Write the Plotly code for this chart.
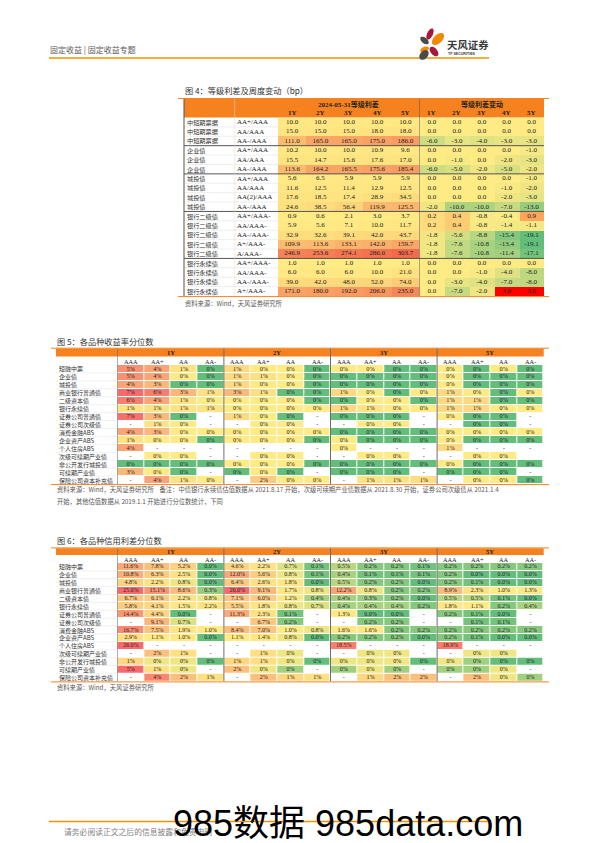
import math
import plotly.graph_objects as go

W, H = 596, 843

# ---------------- Figure 4 data ----------------
T1_BONDS = ["中短期票据", "中短期票据", "中短期票据",
            "企业债", "企业债", "企业债",
            "城投债", "城投债", "城投债", "城投债",
            "银行二级债", "银行二级债", "银行二级债", "银行二级债", "银行二级债",
            "银行永续债", "银行永续债", "银行永续债", "银行永续债"]
T1_PAIRS = ["AA+/AAA", "AA/AAA", "AA-/AAA",
            "AA+/AAA", "AA/AAA", "AA-/AAA",
            "AA+/AAA", "AA/AAA", "AA(2)/AAA", "AA-/AAA",
            "AA+/AAA-", "AA/AAA-", "AA-/AAA-", "A+/AAA-", "A/AAA-",
            "AA+/AAA-", "AA/AAA-", "AA-/AAA-", "A+/AAA-"]
T1_TENORS = ["1Y", "2Y", "3Y", "4Y", "5Y"]
T1_BLOCK_TITLES = ["2024-05-31等级利差", "等级利差变动"]
T1_SPREAD = [
    [10.0, 10.0, 10.0, 10.0, 10.0],
    [15.0, 15.0, 15.0, 18.0, 18.0],
    [111.0, 165.0, 165.0, 175.0, 186.0],
    [10.2, 10.0, 10.0, 10.9, 9.6],
    [15.5, 14.7, 15.6, 17.6, 17.0],
    [113.6, 164.2, 165.5, 175.6, 185.4],
    [5.6, 6.5, 5.9, 5.9, 5.9],
    [11.6, 12.5, 11.4, 12.9, 12.5],
    [17.6, 18.5, 17.4, 28.9, 34.5],
    [24.6, 38.5, 56.4, 119.9, 125.5],
    [0.9, 0.6, 2.1, 3.0, 3.7],
    [5.9, 5.6, 7.1, 10.0, 11.7],
    [32.9, 32.6, 39.1, 42.0, 43.7],
    [109.9, 113.6, 133.1, 142.0, 159.7],
    [246.9, 253.6, 274.1, 286.0, 303.7],
    [1.0, 1.0, 1.0, 1.0, 1.0],
    [6.0, 6.0, 6.0, 10.0, 21.0],
    [39.0, 42.0, 48.0, 52.0, 74.0],
    [171.0, 180.0, 192.0, 206.0, 235.0],
]
T1_CHANGE = [
    [0.0, 0.0, 0.0, 0.0, 0.0],
    [0.0, 0.0, 0.0, 0.0, 0.0],
    [-6.0, -3.0, -4.0, -3.0, -3.0],
    [0.0, 0.0, 0.0, 0.0, -1.0],
    [0.0, -1.0, 0.0, -2.0, -3.0],
    [-6.0, -5.0, -2.0, -5.0, -2.0],
    [0.0, 0.0, 0.0, 0.0, -1.0],
    [0.0, 0.0, 0.0, -1.0, -2.0],
    [0.0, 0.0, 0.0, -2.0, -3.0],
    [-2.0, -10.0, -10.0, -7.0, -13.0],
    [0.2, 0.4, -0.8, -0.4, 0.9],
    [0.2, 0.4, -0.8, -1.4, -1.1],
    [-1.8, -5.6, -8.8, -15.4, -19.1],
    [-1.8, -7.6, -10.8, -13.4, -19.1],
    [-1.8, -7.6, -10.8, -11.4, -17.1],
    [0.0, 0.0, 0.0, 0.0, 0.0],
    [0.0, 0.0, -1.0, -4.0, -8.0],
    [0.0, -3.0, -4.0, -7.0, -8.0],
    [0.0, -7.0, -2.0, 3.0, 3.0],
]

# ---------------- Figure 5 / 6 data ----------------
VARIETIES = ["短融中票", "企业债", "城投债", "商业银行普通债", "二级资本债", "银行永续债",
             "证券公司普通债", "证券公司次级债", "消费金融ABS", "企业资产ABS", "个人住房ABS",
             "次级可续期产业债", "非公开发行城投债", "可续期产业债", "保险公司资本补充债"]
TENORS = ["1Y", "2Y", "3Y", "5Y"]
RATINGS = ["AAA", "AA+", "AA", "AA-"]
N = None  # shown as "-"
B = ""    # blank cell

# yield percentiles (%), columns: 1Y AAA..AA-, 2Y, 3Y, 5Y
T2_YIELD_PCT = [
    [5.0, 4.0, 0.8, 0.0,  1.3, 0.4, 0.4, 0.0,  0.4, 0.4, 0.0, 0.0,  0.4, 0.0, 0.4, 0.0],
    [5.0, 4.0, 0.4, 0.0,  1.3, 0.9, 0.4, 0.0,  0.0, 0.0, 0.0, 0.0,  0.4, 0.0, 0.0, 0.0],
    [4.0, 3.0, 0.0, 0.0,  1.3, 0.4, 0.4, 0.0,  0.0, 0.0, 0.0, 0.0,  0.4, 0.0, 0.0, 0.0],
    [7.0, 6.0, 3.0, 0.9,  3.0, 0.9, 0.0, 0.0,  1.3, 0.4, 0.0, 0.4,  1.3, 0.4, 0.0, 0.4],
    [6.0, 4.0, 0.8, 0.4,  0.4, 0.4, 0.4, 0.0,  0.0, 0.4, 0.4, 0.0,  1.3, 1.3, 0.0, 0.0],
    [0.8, 0.8, 0.8, 0.8,  0.4, 0.4, 0.4, 0.4,  1.3, 0.8, 0.4, 0.4,  1.3, 1.3, 0.4, 0.4],
    [6.6, 3.0, 0.0, N,    1.3, 0.4, 0.0, N,    0.0, 0.0, 0.0, N,    0.4, 0.0, 0.0, N],
    [N, 0.8, 0.4, N,      N, 0.4, 0.4, N,      N, 0.4, 0.4, N,      N, 0.0, 0.0, N],
    [4.0, 3.0, 0.4, 0.4,  0.4, 0.4, 0.4, 0.4,  0.0, 0.0, 0.0, 0.0,  0.4, 0.4, 0.4, 0.4],
    [0.8, 0.4, 0.4, 0.0,  0.4, 0.4, 0.4, 0.0,  0.4, 0.0, 0.0, 0.0,  0.4, 0.0, 0.0, 0.0],
    [4.0, N, N, N,        N, N, N, N,          0.4, N, N, N,        1.3, N, N, N],
    [N, 0.4, 0.4, N,      N, 0.4, 0.4, N,      N, 0.4, 0.4, N,      N, 0.4, 0.4, B],
    [0.0, 0.0, 0.0, 0.0,  0.4, 0.4, 0.4, 0.0,  0.0, 0.0, 0.0, 0.0,  0.4, 0.0, 0.0, 0.0],
    [3.0, 0.4, 0.0, N,    0.0, 0.4, 0.0, N,    0.0, 0.0, 0.0, N,    0.0, 0.0, 0.0, N],
    [N, 4.0, 0.8, 0.4,    N, 2.0, 0.4, 0.4,    N, 0.8, 0.8, 1.1,    N, 0.4, 0.4, 0.0],
]

# credit spread percentiles (%), first 11 varieties (one decimal)
T3_SPREAD_PCT = [
    [11.6, 7.8, 5.2, 0.0,   4.6, 2.2, 0.7, 0.1,   0.5, 0.2, 0.2, 0.1,   0.2, 0.2, 0.2, 0.2],
    [10.8, 6.3, 2.5, 0.0,   12.0, 5.6, 0.8, 0.1,  0.4, 0.1, 0.1, 0.1,   0.2, 0.0, 0.0, 0.0],
    [4.8, 2.2, 0.8, 0.0,    6.4, 2.6, 1.8, 0.0,   0.5, 0.2, 0.2, 0.0,   0.2, 0.1, 0.0, 0.0],
    [25.0, 15.1, 8.6, 0.3,  26.0, 9.1, 1.7, 0.8,  12.2, 0.8, 0.2, 0.2,  8.9, 2.3, 1.0, 1.3],
    [6.7, 6.1, 2.2, 0.8,    7.1, 6.0, 1.2, 0.4,   0.4, 0.3, 0.2, 0.0,   0.5, 0.5, 0.1, 0.0],
    [5.8, 4.1, 1.5, 2.2,    5.5, 1.8, 0.8, 0.7,   0.4, 0.4, 0.4, 0.2,   1.8, 1.1, 0.2, 0.4],
    [14.4, 4.4, 0.0, N,     11.3, 2.3, 0.1, N,    1.3, 0.0, 0.0, N,     0.2, 0.1, 0.0, N],
    [N, 9.1, 0.7, N,        N, 6.7, 0.2, N,       N, 0.2, 0.2, N,       N, 0.1, 0.1, N],
    [16.7, 7.5, 1.9, 1.0,   8.4, 7.0, 1.0, 0.8,   1.6, 1.6, 0.2, 0.2,   0.2, 0.2, 0.2, 0.2],
    [2.9, 1.1, 1.0, 0.0,    1.1, 1.4, 0.8, 0.0,   0.2, 0.2, 0.2, 0.0,   0.2, 0.1, 0.0, 0.0],
    [26.0, N, N, N,         N, N, N, N,           18.5, N, N, N,        18.9, N, N, N],
]
# last 4 varieties (shown as whole percents)
T3_SPREAD_PCT_INT = [
    [N, 2.0, 0.9, N,        N, 0.9, 0.45, N,      N, 0.45, 0.45, N,     N, 0.45, 0.45, B],
    [1.2, 0.45, 0.45, 0.0,  1.2, 0.9, 0.45, 0.0,  0.45, 0.45, 0.45, 0.0, 0.45, 0.2, 0.0, 0.0],
    [5.0, 0.9, 0.45, N,     2.0, 0.45, 0.2, N,    0.2, 0.45, 0.2, N,    0.2, 0.2, 0.45, N],
    [N, 4.0, 2.0, 0.9,      N, 2.0, 1.2, 0.9,     N, 1.2, 2.0, 2.0,     N, 2.0, 0.45, 0.2],
]

# ---------------- styling ----------------
SERIF = "Liberation Serif, Noto Sans CJK SC"
CJK = "Noto Sans CJK SC, Liberation Sans"
TXT = "#222222"
ORANGE = "#F5821F"
DARK = "#555555"
GREEN, YELLOW, RED = "#63BE7B", "#FFEB84", "#F8696B"


def X(p):
    return p / W


def Y(p):
    return 1 - p / H


fig = go.Figure()
ann = []
shapes = []


def txt(x, y, s, size, color=TXT, family=CJK, xref="paper", yref="paper",
        xanchor="left", yanchor="middle"):
    ann.append(dict(x=x, y=y, text=s, xref=xref, yref=yref, xanchor=xanchor,
                    yanchor=yanchor, showarrow=False, borderpad=0,
                    font=dict(size=size, color=color, family=family)))


def line(x0, y0, x1, y1, color, width, xref="paper", yref="paper"):
    shapes.append(dict(type="line", x0=x0, y0=y0, x1=x1, y1=y1, xref=xref, yref=yref,
                       line=dict(color=color, width=width), layer="above"))


def rect(x0, y0, x1, y1, color, xref="paper", yref="paper"):
    shapes.append(dict(type="rect", x0=x0, y0=y0, x1=x1, y1=y1, xref=xref, yref=yref,
                       fillcolor=color, line=dict(width=0), layer="below"))


def zgrid(vals):
    return [[v if isinstance(v, (int, float)) else None for v in row] for row in vals]


def labels(vals, fmt, row0=0):
    xs, ys, ts = [], [], []
    for r, row in enumerate(vals):
        for c, v in enumerate(row):
            xs.append(c)
            ys.append(r + row0)
            if v is None:
                ts.append("-")
            elif v == "":
                ts.append("")
            else:
                ts.append(fmt.format(v))
    return xs, ys, ts


def add_block(vals, fmt, xa, ya, cs, zmin, zmax, size, row0=0, gap=0):
    fig.add_trace(go.Heatmap(z=zgrid(vals), x=list(range(len(vals[0]))),
                             y=list(range(row0, row0 + len(vals))),
                             colorscale=cs, zmin=zmin, zmax=zmax, showscale=False,
                             xgap=gap, ygap=gap, hoverinfo="skip", xaxis=xa, yaxis=ya))
    xs, ys, ts = labels(vals, fmt, row0)
    fig.add_trace(go.Scatter(x=xs, y=ys, text=ts, mode="text", hoverinfo="skip",
                             textfont=dict(family=SERIF, size=size, color=TXT),
                             showlegend=False, cliponaxis=False, xaxis=xa, yaxis=ya))


# ================= Page header / footer =================
txt(X(41), Y(42), "固定收益 | 固定收益专题", 8, "#595959")
line(X(41), Y(50), X(481), Y(50), "#F39200", 1.3)


def petal(cx, cy, a, b, ang):
    th = math.radians(ang)
    pts = []
    for k in range(32):
        t = 2 * math.pi * k / 32
        ex, ey = a * math.cos(t), b * math.sin(t)
        px = cx + ex * math.cos(th) - ey * math.sin(th)
        py = cy + ex * math.sin(th) + ey * math.cos(th)
        pts.append(f"{X(px):.5f},{Y(py):.5f}")
    return "M " + " L ".join(pts) + " Z"


for cx, cy, a, b, ang, col in [
    (422.0, 26.0, 6.0, 2.8, -64, "#A8163A"),
    (416.5, 32.5, 5.0, 2.8, 40, "#4A4A4A"),
    (430.0, 31.0, 7.5, 4.2, -45, "#F08A00"),
    (416.5, 41.5, 4.6, 2.6, -25, "#F08A00"),
    (426.0, 43.5, 5.6, 3.3, 50, "#A8163A"),
    (416.0, 47.0, 5.6, 3.8, -48, "#4A4A4A"),
]:
    shapes.append(dict(type="path", path=petal(cx, cy, a, b, ang), xref="paper", yref="paper",
                       fillcolor=col, line=dict(width=0), layer="above"))
txt(X(437.5), Y(36.5), "<b>天风证券</b>", 10.4, "#3A3A3A")
txt(X(439), Y(46.5), "<b>TF SECURITIES</b>", 3.6, "#3A3A3A", "Liberation Sans")

line(X(41), Y(813.5), X(481), Y(813.5), "#F39200", 1.3)
txt(X(55), Y(823), "请务必阅读正文之后的信息披露和免责申明", 7.8, "#7F7F7F")

# ================= Figure 4 =================
T1_TOP, T1_HDR, T1_BOT = 91.0, 109.5, 288.0
T1_L, T1_MID, T1_R = 176.0, 411.5, 536.0
txt(X(176), Y(82), "图 4：等级利差及周度变动（bp）", 8.2, "#333333")
line(X(170), Y(90.5), X(541), Y(90.5), ORANGE, 1)
rect(X(T1_L), Y(T1_TOP), X(T1_R), Y(T1_HDR), ORANGE)

nr1 = len(T1_SPREAD)
add_block(T1_SPREAD, "{:.1f}", "x", "y", [[0, YELLOW], [1, "#F46A4C"]], 0, 304, 7)
add_block(T1_CHANGE, "{:.1f}", "x2", "y",
          [[0, GREEN], [19.1 / 22.1, YELLOW], [1, "#FF0000"]], -19.1, 3.0, 7)

for k, (xa, title) in enumerate(zip(["x", "x2"], T1_BLOCK_TITLES)):
    txt(2, Y(96.5), "<b>" + title + "</b>", 7, TXT, SERIF, xref=xa, xanchor="center")
    for c, t in enumerate(T1_TENORS):
        txt(c, Y(105.3), "<b>" + t + "</b>", 7, TXT, SERIF, xref=xa, xanchor="center")

for r in range(nr1):
    txt(X(178), r, T1_BONDS[r], 6.2, "#333333", CJK, yref="y")
    txt(X(228), r, T1_PAIRS[r], 7, TXT, SERIF, yref="y")
    if r > 0:
        if T1_BONDS[r] != T1_BONDS[r - 1]:
            line(X(T1_L), r - 0.5, X(T1_R), r - 0.5, DARK, 1, yref="y")
        else:
            line(X(T1_L), r - 0.5, X(270), r - 0.5, "#DDDDDD", 0.5, yref="y")
line(X(T1_L), Y(T1_TOP), X(T1_L), Y(T1_BOT), DARK, 1)
line(4.5, Y(T1_TOP), 4.5, Y(T1_BOT), DARK, 1, xref="x")
line(X(226.7), Y(T1_TOP), X(226.7), Y(T1_BOT), "#DDDDDD", 0.5)
line(X(170), Y(288.6), X(541), Y(288.6), ORANGE, 1)
txt(X(176), Y(295.5), "资料来源：Wind，天风证券研究所", 6.3, "#595959")

# ================= Figure 5 / 6 =================
NAME_L, VAL_L, VAL_R = 48.0, 109.3, 535.7


def grid_frame(xa, ya, band_top, band_bot, sub_mid, rows_bot):
    rect(X(NAME_L), Y(band_top), X(VAL_R), Y(band_bot), ORANGE)
    line(X(43), Y(band_top - 0.4), X(541), Y(band_top - 0.4), ORANGE, 1)
    for g, t in enumerate(TENORS):
        txt(g * 4 + 1.5, Y((band_top + band_bot) / 2), "<b>" + t + "</b>", 6.5, TXT, SERIF,
            xref=xa, xanchor="center")
        for k, rt in enumerate(RATINGS):
            txt(g * 4 + k, Y(sub_mid), rt, 6.3, TXT, SERIF, xref=xa, xanchor="center")
        line(g * 4 - 0.5, Y(band_top), g * 4 - 0.5, Y(rows_bot), "#6E6E6E", 1, xref=xa)
    for r, name in enumerate(VARIETIES):
        txt(X(NAME_L + 1.5), r, name, 6.0, "#333333", CJK, yref=ya)
        if r > 0:
            line(X(NAME_L), r - 0.5, X(VAL_L), r - 0.5, "#E3E3E3", 0.5, yref=ya)
    line(X(43), Y(rows_bot + 0.6), X(541), Y(rows_bot + 0.6), ORANGE, 1)


# Figure 5
txt(X(48), Y(333), "图 5：各品种收益率分位数", 8.2, "#333333")
grid_frame("x3", "y3", 340.6, 348.5, 353.0, 476.0)
add_block(T2_YIELD_PCT, "{:.0f}%", "x3", "y3", [[0, GREEN], [0.4 / 7, YELLOW], [1, RED]],
          0, 7, 6.2, gap=1)
txt(X(48), Y(481), "资料来源：Wind，天风证券研究所    备注：中债银行永续债估值数据从 2021.8.17 开始，"
    "次级可续期产业债数据从 2021.8.30 开始，证券公司次级债从 2021.1.4", 6.3, "#595959")
txt(X(48), Y(493.3), "开始，其他估值数据从 2019.1.1 开始进行分位数统计，下同", 6.3, "#595959")

# Figure 6
txt(X(48), Y(532.3), "图 6：各品种信用利差分位数", 8.2, "#333333")
grid_frame("x4", "y4", 540.3, 547.0, 551.0, 673.3)
add_block(T3_SPREAD_PCT, "{:.1f}%", "x4", "y4", [[0, GREEN], [0.9 / 22, YELLOW], [1, RED]],
          0, 22, 6.0, gap=1)
add_block(T3_SPREAD_PCT_INT, "{:.0f}%", "x4", "y4", [[0, GREEN], [0.5 / 5, YELLOW], [1, RED]],
          0, 5, 6.0, row0=len(T3_SPREAD_PCT), gap=1)
txt(X(48), Y(679.5), "资料来源：Wind，天风证券研究所", 6.3, "#595959")

# watermark
txt(X(340), Y(815), "985数据 985data.com", 36, "#000000", "Liberation Sans, Noto Sans CJK SC",
    xanchor="center")


def ax(domain, rng, anchor):
    return dict(domain=domain, range=rng, visible=False, fixedrange=True, anchor=anchor)


nr = len(VARIETIES)
fig.update_layout(
    width=W, height=H, autosize=False,
    margin=dict(l=0, r=0, t=0, b=0, pad=0),
    paper_bgcolor="white", plot_bgcolor="rgba(0,0,0,0)",
    showlegend=False,
    xaxis=ax([X(270), X(T1_MID)], [-0.5, 4.5], "y"),
    xaxis2=ax([X(T1_MID), X(T1_R)], [-0.5, 4.5], "y"),
    yaxis=ax([Y(T1_BOT), Y(T1_HDR)], [nr1 - 0.5, -0.5], "x"),
    xaxis3=ax([X(VAL_L), X(VAL_R)], [-0.5, 15.5], "y3"),
    yaxis3=ax([Y(476.0), Y(357.0)], [nr - 0.5, -0.5], "x3"),
    xaxis4=ax([X(VAL_L), X(VAL_R)], [-0.5, 15.5], "y4"),
    yaxis4=ax([Y(673.3), Y(555.0)], [nr - 0.5, -0.5], "x4"),
    annotations=ann,
    shapes=shapes,
)

fig.write_html("out.html")
